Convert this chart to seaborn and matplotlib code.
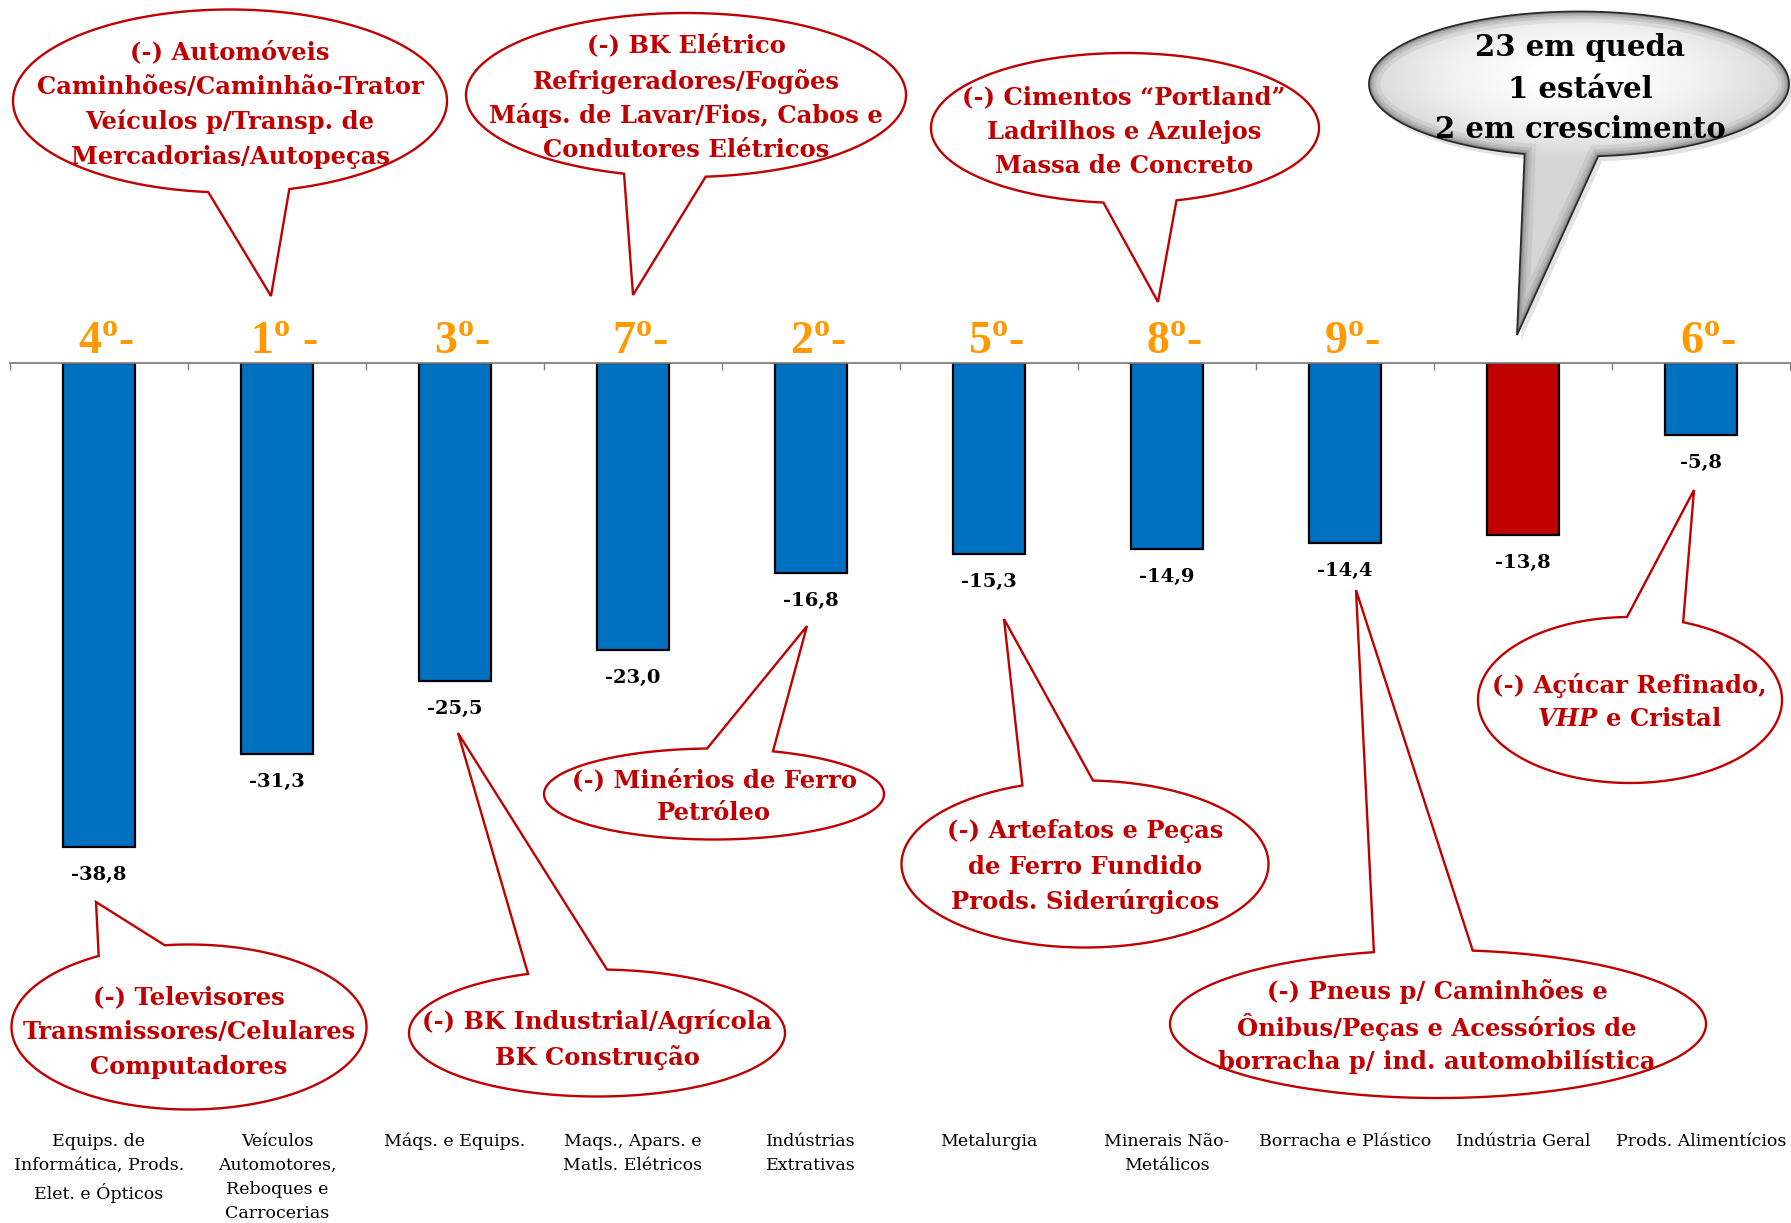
import numpy as np
import pandas as pd
import matplotlib
matplotlib.use("Agg")
import matplotlib.pyplot as plt
import matplotlib.patches as mpatches
from matplotlib.path import Path
from matplotlib.colors import LinearSegmentedColormap
import seaborn as sns

categories = [
    "Equips. de\nInformática, Prods.\nElet. e Ópticos",
    "Veículos\nAutomotores,\nReboques e\nCarrocerias",
    "Máqs. e Equips.",
    "Maqs., Apars. e\nMatls. Elétricos",
    "Indústrias\nExtrativas",
    "Metalurgia",
    "Minerais Não-\nMetálicos",
    "Borracha e Plástico",
    "Indústria Geral",
    "Prods. Alimentícios",
]
values = [-38.8, -31.3, -25.5, -23.0, -16.8, -15.3, -14.9, -14.4, -13.8, -5.8]
value_labels = ["-38,8", "-31,3", "-25,5", "-23,0", "-16,8", "-15,3", "-14,9", "-14,4", "-13,8", "-5,8"]
ranks = ["4", "1", "3", "7", "2", "5", "8", "9", "", "6"]
rank_gap = ["", " ", "", "", "", "", "", "", "", ""]
is_total = [False] * 8 + [True, False]

BLUE = "#0070C0"
DARKRED = "#C00000"
ORANGE = "#FF9900"

sns.set_style("white")
plt.rcParams["font.family"] = ["DejaVu Serif", "DejaVu Sans"]
plt.rcParams["mathtext.fontset"] = "custom"
plt.rcParams["mathtext.rm"] = "Liberation Serif:bold"
plt.rcParams["mathtext.it"] = "DejaVu Serif:bold:italic"

W, H = 1791, 1223
fig = plt.figure(figsize=(W / 100, H / 100), dpi=100)

# main bar axes: zero line at y=363px, 12.48 px per unit
top_px, bottom_px = 363, 363 + 61 * 12.48
ax = fig.add_axes([10 / W, 1 - bottom_px / H, 1780 / W, (bottom_px - top_px) / H])

df = pd.DataFrame({"cat": categories, "val": values,
                   "grp": ["total" if t else "setor" for t in is_total]})
sns.barplot(data=df, x="cat", y="val", hue="grp", palette={"setor": BLUE, "total": DARKRED},
            dodge=False, width=0.405, saturation=1, edgecolor="black", linewidth=1.6,
            legend=False, ax=ax)
ax.set_xlim(-0.5, 9.5)
ax.set_ylim(-61, 0)
ax.set_xlabel("")
ax.set_ylabel("")
ax.set_yticks([])
ax.set_xticks(range(10))
ax.set_xticklabels(categories, fontsize=12.5, linespacing=1.55, color="black")
ax.tick_params(axis="x", which="major", length=0, pad=6)
ax.set_xticks(np.arange(-0.5, 10, 1), minor=True)
ax.tick_params(axis="x", which="minor", top=True, bottom=False, direction="in",
               length=5, width=1, color="#808080")
for s in ["left", "right", "bottom"]:
    ax.spines[s].set_visible(False)
ax.spines["top"].set_color("#808080")
ax.spines["top"].set_linewidth(1.3)

for i, v in enumerate(values):
    ax.annotate(value_labels[i], xy=(i, v), xytext=(0, -28), textcoords="offset pixels",
                ha="center", va="center", fontsize=14, fontweight="bold", color="black")
    if ranks[i]:
        ax.annotate(ranks[i] + r"$^{\rm o}$" + rank_gap[i] + "-", xy=(i, 0), xytext=(7, 9),
                    textcoords="offset pixels", ha="center", va="baseline",
                    fontsize=33, fontweight="bold", family="Liberation Serif",
                    color=ORANGE, annotation_clip=False)

# overlay in pixel coordinates for the callouts
ov = fig.add_axes([0, 0, 1, 1], zorder=5)
ov.set_xlim(0, W)
ov.set_ylim(H, 0)
ov.axis("off")
ov.patch.set_visible(False)


def callout_path(cx, cy, w, h, bases, tip):
    a, b = w / 2, h / 2
    ang = sorted(np.arctan2((by - cy) / b, (bx - cx) / a) for bx, by in bases)
    t = np.linspace(ang[1], ang[0] + 2 * np.pi, 300)
    pts = np.column_stack([cx + a * np.cos(t), cy + b * np.sin(t)])
    pts = np.vstack([pts, [tip], pts[:1]])
    codes = [Path.MOVETO] + [Path.LINETO] * (len(pts) - 2) + [Path.CLOSEPOLY]
    return Path(pts, codes)


def red_callout(cx, cy, w, h, bases, tip, lines, ys, tx=None, size=17.5):
    path = callout_path(cx, cy, w, h, bases, tip)
    ov.add_patch(mpatches.PathPatch(path, facecolor="white", edgecolor=DARKRED, lw=1.7, zorder=2))
    tx = cx if tx is None else tx
    for line, y in zip(lines, ys):
        ov.text(tx, y, line, ha="center", va="center", fontsize=size, fontweight="bold",
                color=DARKRED, zorder=4)


red_callout(230, 101, 434, 183, [(208, 193), (290, 190)], (271, 296),
            ["(-) Automóveis", "Caminhões/Caminhão-Trator", "Veículos p/Transp. de",
             "Mercadorias/Autopeças"], [52, 87, 122, 157])
red_callout(686, 95, 440, 164, [(623, 175), (706, 178)], (633, 295),
            ["(-) BK Elétrico", "Refrigeradores/Fogões", "Máqs. de Lavar/Fios, Cabos e",
             "Condutores Elétricos"], [45, 81, 115, 150])
red_callout(1125, 128, 388, 150, [(1103, 204), (1177, 201)], (1158, 302),
            ["(-) Cimentos \u201cPortland\u201d", "Ladrilhos e Azulejos", "Massa de Concreto"],
            [97, 132, 166], tx=1124)
red_callout(189, 1027, 355, 165, [(100, 957), (165, 946)], (96, 902),
            ["(-) Televisores", "Transmissores/Celulares", "Computadores"], [997, 1032, 1067])
red_callout(597, 1033, 376, 127, [(534, 979), (606, 976)], (458, 733),
            ["(-) BK Industrial/Agrícola", "BK Construção"], [1022, 1057])
red_callout(714, 794, 340, 91, [(707, 748), (772, 752)], (807, 626),
            ["(-) Minérios de Ferro", "Petróleo"], [780, 813])
red_callout(1085, 864, 367, 167, [(1022, 785), (1093, 781)], (1004, 619),
            ["(-) Artefatos e Peças", "de Ferro Fundido", "Prods. Siderúrgicos"], [831, 867, 902])
red_callout(1438, 1024, 536, 148, [(1372, 950), (1474, 948)], (1356, 590),
            ["(-) Pneus p/ Caminhões e", "Ônibus/Peças e Acessórios de",
             "borracha p/ ind. automobilística"], [992, 1027, 1062], tx=1437)
red_callout(1630, 700, 304, 166, [(1627, 617), (1684, 621)], (1694, 490),
            ["(-) Açúcar Refinado,", r"$\it{VHP}$ e Cristal"], [685, 719], tx=1629)

# grey summary balloon with gradient fill and soft dark rim
gpath = callout_path(1579, 84, 420, 145, [(1520, 160), (1600, 163)], (1517, 335))
shadow = mpatches.PathPatch(gpath.transformed(matplotlib.transforms.Affine2D().translate(4, 5)),
                            facecolor="#c8c8c8", edgecolor="none", alpha=0.5, zorder=1)
ov.add_patch(shadow)
gpatch = mpatches.PathPatch(gpath, facecolor="#dcdcdc", edgecolor="none", zorder=2)
ov.add_patch(gpatch)
x0, x1, y0, y1 = 1365, 1791, 8, 340
gx, gy = np.meshgrid(np.linspace(x0, x1, 300), np.linspace(y0, y1, 240))
dist = np.sqrt(((gx - 1575) / 220) ** 2 + ((gy - 75) / 85) ** 2)
grey_cmap = LinearSegmentedColormap.from_list("g", ["#ffffff", "#f0f0f0", "#d6d6d6"])
img = ov.imshow(dist, extent=(x0, x1, y1, y0), origin="upper", cmap=grey_cmap,
                vmin=0.2, vmax=1.0, zorder=2.5, aspect="auto", interpolation="bilinear")
img.set_clip_path(gpatch)
for lw, al in [(16, 0.10), (10, 0.14), (6, 0.2), (3, 0.3)]:
    rim = ov.add_patch(mpatches.PathPatch(gpath, facecolor="none", edgecolor="#555555",
                                          lw=lw, alpha=al, zorder=2.7))
    rim.set_clip_path(gpatch)
ov.add_patch(mpatches.PathPatch(gpath, facecolor="none", edgecolor="#2a2a2a", lw=1.3, zorder=3))
for line, y in zip(["23 em queda", "1 estável", "2 em crescimento"], [47, 89, 130]):
    ov.text(1580, y, line, ha="center", va="center", fontsize=21, fontweight="bold",
            color="black", zorder=4)
ov.set_xlim(0, W)
ov.set_ylim(H, 0)

fig.savefig("out.png", dpi=100)
